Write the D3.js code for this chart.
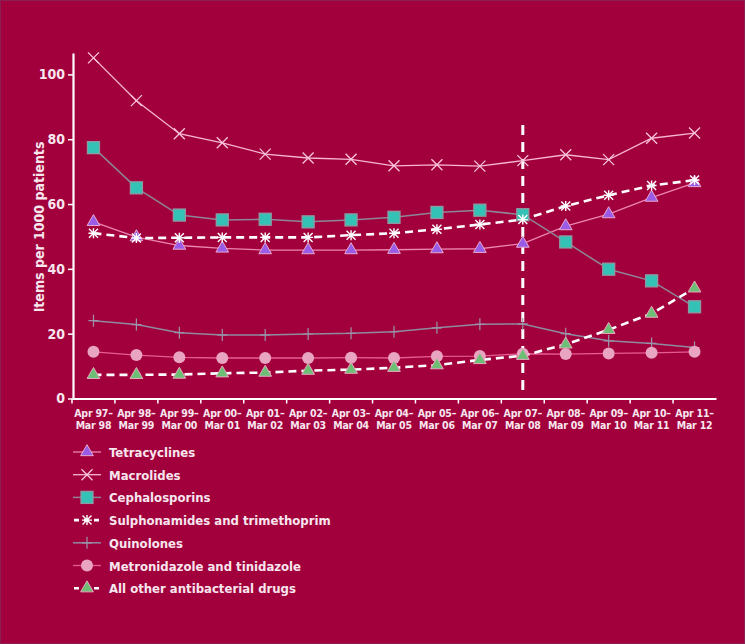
<!DOCTYPE html>
<html>
<head>
<meta charset="utf-8">
<script src="https://cdn.jsdelivr.net/npm/d3@7"></script>
<style>
  html, body { margin: 0; padding: 0; background: #a2003c; }
  svg { display: block; }
  text { font-family: "DejaVu Sans Condensed", "DejaVu Sans", sans-serif; font-weight: bold; fill: #f7e6ee; }
</style>
</head>
<body>
<svg id="chart"></svg>
<script>
// periods on the x axis (two lines each)
const periodStart = ["Apr 97", "Apr 98", "Apr 99", "Apr 00", "Apr 01", "Apr 02", "Apr 03", "Apr 04",
                     "Apr 05", "Apr 06", "Apr 07", "Apr 08", "Apr 09", "Apr 10", "Apr 11"];
const periodEnd = ["Mar 98", "Mar 99", "Mar 00", "Mar 01", "Mar 02", "Mar 03", "Mar 04", "Mar 05",
                   "Mar 06", "Mar 07", "Mar 08", "Mar 09", "Mar 10", "Mar 11", "Mar 12"];
const yTicks = [0, 20, 40, 60, 80, 100];

// items per 1000 patients
const tetracyclines = [54.5, 49.8, 47.2, 46.3, 45.8, 45.8, 45.8, 45.9, 46.1, 46.2, 47.8, 53.2, 56.9, 62.0, 66.5];
const macrolides = [105.1, 91.9, 81.7, 78.9, 75.4, 74.2, 73.8, 71.8, 72.1, 71.7, 73.4, 75.2, 73.7, 80.3, 81.9];
const cephalosporins = [77.4, 65.0, 56.6, 55.1, 55.3, 54.5, 55.1, 55.9, 57.4, 58.1, 56.7, 48.3, 39.9, 36.3, 28.3];
const sulphonamides = [51.0, 49.5, 49.6, 49.7, 49.7, 49.7, 50.4, 51.0, 52.2, 53.7, 55.2, 59.4, 62.7, 65.7, 67.4];
const quinolones = [24.0, 22.8, 20.3, 19.6, 19.6, 19.9, 20.1, 20.6, 21.8, 22.9, 23.0, 20.0, 17.8, 17.0, 15.7];
const metronidazole = [14.4, 13.4, 12.7, 12.5, 12.5, 12.5, 12.6, 12.5, 13.0, 13.1, 13.8, 13.7, 13.9, 14.1, 14.4];
const otherDrugs = [7.3, 7.3, 7.4, 7.8, 8.0, 8.6, 8.9, 9.5, 10.3, 11.9, 13.2, 16.7, 21.2, 26.2, 34.0];

const marked = "Apr 07"; // vertical dashed line

const series = [
  { name: "Tetracyclines", values: tetracyclines, line: "#ec86b2", width: 1.3, dash: null,
    marker: "triangle", fill: "#9a5ce6", stroke: "#e7a9d0" },
  { name: "Macrolides", values: macrolides, line: "#f6b6d4", width: 1.3, dash: null,
    marker: "x", fill: "none", stroke: "#f8c6dc" },
  { name: "Cephalosporins", values: cephalosporins, line: "#8e8597", width: 1.5, dash: null,
    marker: "square", fill: "#35c2b6", stroke: "#8e9aa2" },
  { name: "Sulphonamides and trimethoprim", values: sulphonamides, line: "#ffffff", width: 2.6, dash: "8,5",
    marker: "asterisk", fill: "none", stroke: "#ffffff" },
  { name: "Quinolones", values: quinolones, line: "#8f8aa0", width: 1.5, dash: null,
    marker: "plus", fill: "none", stroke: "#9a95aa" },
  { name: "Metronidazole and tinidazole", values: metronidazole, line: "#e55d92", width: 1.3, dash: null,
    marker: "circle", fill: "#e8a4c0", stroke: "none" },
  { name: "All other antibacterial drugs", values: otherDrugs, line: "#ffffff", width: 2.6, dash: "8,5",
    marker: "triangle", fill: "#6cbf74", stroke: "#e7a9c0" }
];

const width = 745;
const height = 644;
const margin = { top: 53, left: 72, right: 29, bottom: 246 };

const svg = d3.select("#chart").attr("width", width).attr("height", height);

svg.append("rect")
  .attr("x", 0.5).attr("y", 0.5)
  .attr("width", width - 1).attr("height", height - 1)
  .attr("fill", "#a2003c")
  .attr("stroke", "#8a1f52");

const x = d3.scaleBand()
  .domain(periodStart)
  .range([margin.left, width - margin.right])
  .padding(0);

const y = d3.scaleLinear()
  .domain([0, 106.6])
  .range([height - margin.bottom + 0.5, margin.top]);

const cx = d => x(d) + x.bandwidth() / 2;

// x axis
const xAxis = svg.append("g")
  .attr("transform", `translate(0, ${y(0)})`)
  .call(d3.axisBottom(x).tickSize(5).tickSizeOuter(0));
xAxis.select(".domain").attr("stroke", "#ffffff").attr("stroke-width", 2.2);
xAxis.selectAll(".tick line")
  .attr("stroke", "#ffffff").attr("stroke-width", 1.5)
  .attr("transform", `translate(${-x.bandwidth() / 2}, 0)`);
xAxis.selectAll(".tick text").each(function (d, i) {
  const t = d3.select(this).text(null).attr("y", 0).attr("dy", null)
    .attr("font-size", 10.5)
    .attr("letter-spacing", -0.2);
  t.append("tspan").attr("x", 0).attr("y", 18).text(periodStart[i] + "–");
  t.append("tspan").attr("x", 0).attr("y", 30).text(periodEnd[i]);
});

// y axis
const yAxis = svg.append("g")
  .attr("transform", `translate(${margin.left + 1}, 0)`)
  .call(d3.axisLeft(y).tickValues(yTicks).tickSize(5).tickSizeOuter(0));
yAxis.select(".domain").attr("stroke", "#ffffff").attr("stroke-width", 2.2);
yAxis.selectAll(".tick line").attr("stroke", "#ffffff").attr("stroke-width", 1.5);
yAxis.selectAll(".tick text").attr("font-size", 14).attr("x", -8);

svg.append("text")
  .attr("transform", "translate(44, 227) rotate(-90)")
  .attr("text-anchor", "middle")
  .attr("font-size", 14)
  .text("Items per 1000 patients");

// vertical dashed line
svg.append("line")
  .attr("x1", cx(marked)).attr("x2", cx(marked))
  .attr("y1", 125).attr("y2", y(0) - 2)
  .attr("stroke", "#ffffff")
  .attr("stroke-width", 3)
  .attr("stroke-dasharray", "10,7");

function drawMarker(g, type, fill, stroke) {
  if (type === "triangle") {
    g.append("path").attr("d", d3.symbol(d3.symbolTriangle, 70)())
      .attr("fill", fill).attr("stroke", stroke).attr("stroke-width", 1);
  } else if (type === "square") {
    g.append("rect").attr("x", -6).attr("y", -6).attr("width", 12).attr("height", 12)
      .attr("fill", fill).attr("stroke", stroke).attr("stroke-width", 1.3);
  } else if (type === "circle") {
    g.append("circle").attr("r", 6).attr("fill", fill);
  } else if (type === "x") {
    g.append("path").attr("d", "M-5.5,-5.5L5.5,5.5M-5.5,5.5L5.5,-5.5")
      .attr("stroke", stroke).attr("stroke-width", 1.3).attr("fill", "none");
  } else if (type === "asterisk") {
    g.append("path").attr("d", "M-4.5,-4.5L4.5,4.5M-4.5,4.5L4.5,-4.5M0,-5L0,5M-5,0L5,0")
      .attr("stroke", stroke).attr("stroke-width", 1.4).attr("fill", "none");
  } else if (type === "plus") {
    g.append("path").attr("d", "M0,-6L0,6M-5,0L5,0")
      .attr("stroke", stroke).attr("stroke-width", 1.2).attr("fill", "none");
  }
}

const line = d3.line()
  .x((d, i) => cx(periodStart[i]))
  .y(d => y(d));

series.forEach(s => {
  svg.append("path")
    .datum(s.values)
    .attr("d", line)
    .attr("fill", "none")
    .attr("stroke", s.line)
    .attr("stroke-width", s.width)
    .attr("stroke-dasharray", s.dash);
});

series.forEach(s => {
  s.values.forEach((v, i) => {
    const g = svg.append("g")
      .attr("transform", `translate(${cx(periodStart[i])}, ${y(v)})`);
    drawMarker(g, s.marker, s.fill, s.stroke);
  });
});

// legend
const legend = svg.append("g").attr("transform", "translate(73, 452)");
series.forEach((s, i) => {
  const row = legend.append("g").attr("transform", `translate(0, ${i * 22.7})`);
  row.append("line")
    .attr("x1", 0).attr("x2", 28)
    .attr("stroke", s.line)
    .attr("stroke-width", s.width)
    .attr("stroke-dasharray", s.dash ? "5,5" : null)
    .attr("stroke-dashoffset", s.dash ? -1 : null);
  const m = row.append("g").attr("transform", "translate(14, 0)");
  drawMarker(m, s.marker, s.fill, s.stroke);
  row.append("text")
    .attr("x", 36).attr("y", 5)
    .attr("font-size", 13)
    .text(s.name);
});
</script>
</body>
</html>
